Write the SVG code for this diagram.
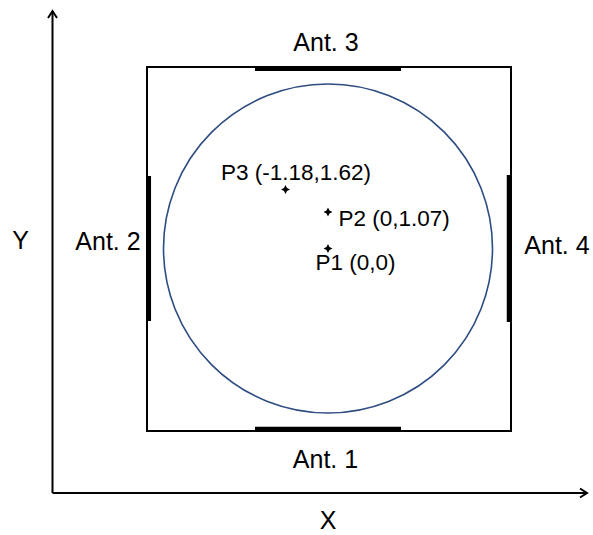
<svg xmlns="http://www.w3.org/2000/svg" xmlns:xlink="http://www.w3.org/1999/xlink" width="593" height="535" viewBox="0 0 593 535">
<style>
text { font-family: "Liberation Sans", Arial, sans-serif; fill: #000; }
.big { font-size: 25px; text-anchor: middle; }
.pt { font-size: 22.5px; }
.axis { stroke: #000; stroke-width: 2; fill: none; }
.box { stroke: #000; stroke-width: 2; fill: #fff; }
.ant { stroke: #000; stroke-width: 4.5; fill: none; }
.circ { stroke: #2d4c82; stroke-width: 1.6; fill: none; }
</style>
<defs>
<marker id="arr" viewBox="0 0 12 12" refX="10" refY="6" markerWidth="12" markerHeight="12" markerUnits="userSpaceOnUse" orient="auto">
<path d="M3,1.5 L10,6 L3,10.5" fill="none" stroke="#000" stroke-width="2"/>
</marker>
<path id="star" d="M0,-4.5 L1.5,-1.5 L4.5,0 L1.5,1.5 L0,4.5 L-1.5,1.5 L-4.5,0 L-1.5,-1.5 Z" fill="#000"/>
</defs>
<rect width="593" height="535" fill="#fff"/>
<g id="connectors">
<line class="axis" x1="52.5" y1="493" x2="52.5" y2="11" marker-end="url(#arr)"/>
<line class="axis" x1="52.5" y1="493" x2="587" y2="493" marker-end="url(#arr)"/>
</g>
<g id="area">
<rect class="box" x="147" y="67" width="364" height="364"/>
<circle class="circ" cx="328" cy="248.5" r="164.5"/>
</g>
<g id="ant3"><line class="ant" x1="255" y1="68.8" x2="401" y2="68.8"/><text class="big" x="326" y="51">Ant. 3</text></g>
<g id="ant1"><line class="ant" x1="255" y1="429" x2="401" y2="429"/><text class="big" x="325.5" y="468">Ant. 1</text></g>
<g id="ant2"><line class="ant" x1="148.8" y1="176" x2="148.8" y2="321"/><text class="big" x="108" y="250">Ant. 2</text></g>
<g id="ant4"><line class="ant" x1="509" y1="175" x2="509" y2="322"/><text class="big" x="557" y="254">Ant. 4</text></g>
<g id="p3"><use xlink:href="#star" x="285.5" y="189.5"/><text class="pt" x="221" y="180">P3 (-1.18,1.62)</text></g>
<g id="p2"><use xlink:href="#star" x="328" y="212"/><text class="pt" x="338.5" y="226">P2 (0,1.07)</text></g>
<g id="p1"><use xlink:href="#star" x="328" y="248.5"/><text class="pt" x="315.5" y="269.5">P1 (0,0)</text></g>
<g id="ylabel"><text class="big" x="20.5" y="249">Y</text></g>
<g id="xlabel"><text class="big" x="328" y="529">X</text></g>
</svg>
